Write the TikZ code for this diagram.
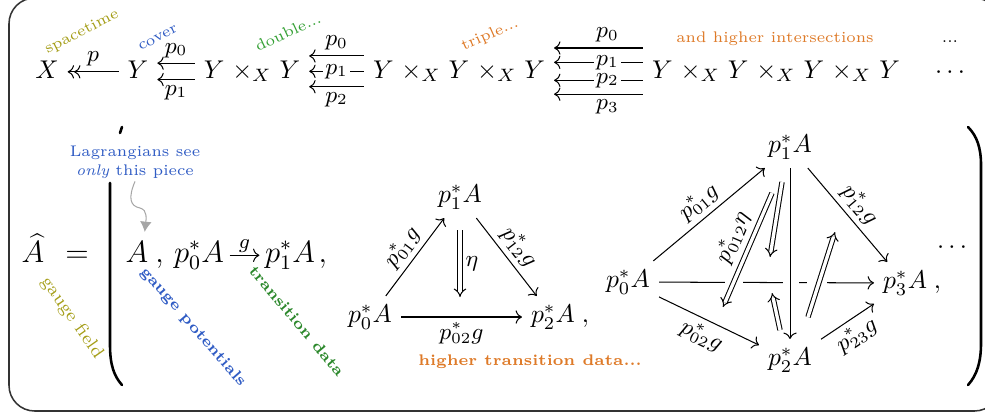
\documentclass[tikz,border=0pt]{standalone}
\usepackage[dvipsnames]{xcolor}
\usetikzlibrary{arrows.meta,calc,positioning}
\definecolor{olivelbl}{RGB}{165,158,25}
\definecolor{bluelbl}{RGB}{48,92,196}
\definecolor{greenlbl}{RGB}{52,160,52}
\definecolor{orangelbl}{RGB}{222,122,40}
\newcommand\fibx{\mskip1.5mu\times_X\mskip1.5mu}
\tikzset{
  note/.style={
    font = \fontsize{6}{7.4}\selectfont,
    inner sep=1pt
  },
  bnote/.style={
    font = \fontsize{6}{7.4}\selectfont\bfseries,
    inner sep=1pt
  },
}
\tikzset{
  lbl/.style={
    font = \small,
    inner sep=2pt
  },
  inlbl/.style={
    font = \small,
    inner sep=1pt,
    fill=white
  },
  comma/.style={
    anchor=base west,
    inner sep=0pt,
    xshift=-1pt
  },
  twocell/.style={
    double,
    double distance=1.3pt,
    -{Implies}
  },
  paren/.style={
    line width=1pt,
    line cap=round
  }
}

\begin{document}
\begin{tikzpicture}[x=0.39pt,y=-0.39pt]
        \useasboundingbox (0,0) rectangle (985,413);
        \draw[black!80, line width=0.6pt, rounded corners=10] (9,-2) rectangle (1000,411);

        % top row
        \node[anchor=base] (X) at (47,78) {$X$};
        \node[anchor=base] (Y) at (138,78) {$Y$};
        \node[anchor=base] (YY) at (252,78) {$Y\fibx Y$};
        \node[anchor=base] (YYY) at (459,78) {$Y\fibx Y\fibx Y$};
        \node[anchor=base] (YYYY) at (776,78) {$Y\fibx Y\fibx Y\fibx Y$};
        \node[anchor=base] (dotsT) at (950,78) {$\cdots$};

        \draw[<<-] ([yshift=2.4pt]X.base east) -- node[lbl, above]{$p$} ([yshift=2.4pt]Y.base west);

        \draw[<-] ([yshift=5.8pt]Y.base east) -- node[lbl, above]{$p_0$} ([yshift=5.8pt]YY.base west);
        \draw[<-] ([yshift=-0.6pt]Y.base east) -- node[lbl, below]{$p_1$} ([yshift=-0.6pt]YY.base west);

        \draw[<-] ([yshift=8.6pt]YY.base east) -- node[lbl, above]{$p_0$} ([yshift=8.6pt]YYY.base west);
        \draw[<-] ([yshift=2.6pt]YY.base east) -- node[inlbl]{$p_1$} ([yshift=2.6pt]YYY.base west);
        \draw[<-] ([yshift=-3.4pt]YY.base east) -- node[lbl, below]{$p_2$} ([yshift=-3.4pt]YYY.base west);

        \draw[<-] ([yshift=11.7pt]YYY.base east) -- node[lbl, above, pos=0.6]{$p_0$} ([yshift=11.7pt]YYYY.base west);
        \draw[<-] ([yshift=6.1pt]YYY.base east) -- node[inlbl, pos=0.6]{$p_1$} ([yshift=6.1pt]YYYY.base west);
        \draw[<-] ([yshift=-0.9pt]YYY.base east) -- node[inlbl, pos=0.6]{$p_2$} ([yshift=-0.9pt]YYYY.base west);
        \draw[<-] ([yshift=-6.3pt]YYY.base east) -- node[lbl, below, pos=0.6]{$p_3$} ([yshift=-6.3pt]YYYY.base west);

        \node[note, olivelbl, rotate=27] (spacetime) at (82,32) {spacetime};
        \node[note, bluelbl, rotate=28] (cover) at (158,38) {cover};
        \node[note, greenlbl, rotate=25] (double) at (288,32) {double...};
        \node[note, orangelbl, rotate=24] (triple) at (490,35) {triple...};
        \node[note, orangelbl] (higher) at (775,39) {and higher intersections};
        \node[note] (dotsN) at (950,42) {...};

        % bottom row
        \node[anchor=base, font=\large] (hatA) at (33,262) {$\widehat{A}$};
        \node[anchor=base, font=\large] (eq) at (77,262) {$=$};
        \node[anchor=base, font=\large] (A0) at (137,262) {$A$};
        \node[comma, font=\large] at (A0.base east) {$,$};
        \node[anchor=base, font=\large, inner sep=2pt] (q0) at (199,262) {$p_0^*A$};
        \node[anchor=base, font=\large, inner sep=2pt] (q1) at (290,262) {$p_1^*A$};
        \node[comma, font=\large] at (q1.base east) {$,$};
        \draw[->] (q0) -- node[font=\footnotesize, above, inner sep=1pt]{$g$} (q1);

        \node[note, bluelbl, align=center] (lag) at (135,162) {Lagrangians see\\\emph{only} this piece};
        \draw[gray!70, -{Latex[length=4pt,width=4.5pt]}] (lag.south) .. controls (128,198) and (130,206) .. (140,208) .. controls (148,210) and (146,220) .. ([xshift=3pt]A0.north);

        \node[font=\scriptsize, inner sep=1pt, olivelbl, rotate=-55] (gfield) at (72,318) {gauge field};
        \node[bnote, bluelbl, rotate=-49] (gpot) at (193,327) {gauge potentials};
        \node[bnote, greenlbl!85!black, rotate=-50] (tdata) at (297,321) {transition data};
        \node[bnote, orangelbl] (htdata) at (530,362) {higher transition data...};

        % triangle
        \node[] (t1) at (460,197) {$p_1^*A$};
        \node[] (t0) at (370,317) {$p_0^*A$};
        \node[] (t2) at (553,317) {$p_2^*A$};
        \node[comma] at (t2.base east) {$,$};
        \draw[->] (t0) -- node[lbl, above, sloped]{$p_{01}^*g$} (t1);
        \draw[->] (t1) -- node[lbl, above, sloped]{$p_{12}^*g$} (t2);
        \draw[->] (t0) -- node[lbl, below]{$p_{02}^*g$} (t2);
        \coordinate (eta0) at (460,230);
        \coordinate (eta1) at (460,297);
        \draw[twocell] (eta0) -- node[lbl, right]{$\eta$} (eta1);

        % tetrahedron
        \node[] (s1) at (790,147) {$p_1^*A$};
        \node[] (s0) at (628,282) {$p_0^*A$};
        \node[] (s3) at (905,283) {$p_3^*A$};
        \node[comma] at (s3.base east) {$,$};
        \node[] (s2) at (790,360) {$p_2^*A$};
        \draw[->] (s0) -- node[lbl, above, sloped]{$p_{01}^*g$} (s1);
        \draw[->] (s1) -- node[lbl, above, sloped]{$p_{12}^*g$} (s3);
        \draw[->] (s0) -- node[lbl, below, sloped]{$p_{02}^*g$} (s2);
        \draw[->] (s2) -- node[lbl, below, sloped]{$p_{23}^*g$} (s3);
        \draw[->] (s0) -- (s3);
        \fill[white] (725,278) rectangle (743,287);
        \fill[white] (783,278) rectangle (799,287);
        \fill[white] (807,278) rectangle (827,287);
        \draw[->] (s1) -- (s2);

        \coordinate (a0) at (782,182);
        \coordinate (a1) at (770,257);
        \coordinate (b0) at (772,193);
        \coordinate (b1) at (723,307);
        \coordinate (c0) at (780,330);
        \coordinate (c1) at (772,293);
        \coordinate (d0) at (808,317);
        \coordinate (d1) at (835,232);
        \draw[twocell] (a0) -- (a1);
        \draw[twocell] (b0) -- node[lbl, above, sloped, pos=0.45, inner sep=3pt]{$p_{012}^*\eta$} (b1);
        \draw[twocell] (c0) -- (c1);
        \draw[twocell] (d0) -- (d1);

        \node[] (dotsB) at (952,248) {$\cdots$};

        % brackets
        \draw[paren] (120,133) -- (122,127);
        \draw[paren] (110,183) -- (110,345) .. controls (110,365) and (114,376) .. (122,385);
        \draw[paren] (968,127) .. controls (977,136) and (981,148) .. (981,165) -- (981,343) .. controls (981,362) and (977,375) .. (968,385);
\end{tikzpicture}
\end{document}
